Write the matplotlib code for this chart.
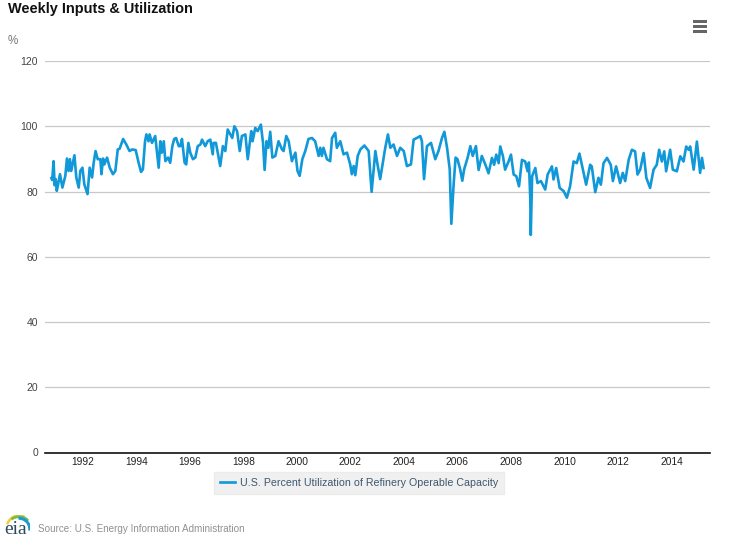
import matplotlib
matplotlib.use('Agg')
import matplotlib.pyplot as plt
from matplotlib.patches import Rectangle, Wedge

plt.rcParams['font.family'] = ['Liberation Sans', 'DejaVu Sans']

# Weekly readings (decimal year, percent)
years = [
    1990.82, 1990.85, 1990.90, 1990.94, 1990.98, 1991.02, 1991.07, 1991.14, 1991.23, 1991.34,
    1991.40, 1991.46, 1991.51, 1991.56, 1991.68, 1991.75, 1991.84, 1991.90, 1991.98, 1992.05,
    1992.17, 1992.25, 1992.34, 1992.40, 1992.47, 1992.55, 1992.65, 1992.69, 1992.75, 1992.80,
    1992.90, 1993.00, 1993.12, 1993.21, 1993.30, 1993.37, 1993.50, 1993.62, 1993.74, 1993.84,
    1993.97, 1994.08, 1994.17, 1994.24, 1994.32, 1994.37, 1994.45, 1994.49, 1994.58, 1994.70,
    1994.83, 1994.89, 1994.95, 1995.02, 1995.08, 1995.18, 1995.26, 1995.34, 1995.41, 1995.48,
    1995.58, 1995.64, 1995.70, 1995.80, 1995.86, 1995.94, 1996.01, 1996.11, 1996.20, 1996.29,
    1996.39, 1996.45, 1996.57, 1996.66, 1996.76, 1996.85, 1996.88, 1996.97, 1997.07, 1997.13,
    1997.23, 1997.32, 1997.41, 1997.51, 1997.58, 1997.66, 1997.76, 1997.86, 1997.94, 1998.07,
    1998.16, 1998.23, 1998.29, 1998.34, 1998.44, 1998.53, 1998.65, 1998.73, 1998.79, 1998.86,
    1998.93, 1999.00, 1999.08, 1999.19, 1999.31, 1999.44, 1999.50, 1999.60, 1999.69, 1999.81,
    1999.94, 2000.02, 2000.10, 2000.20, 2000.31, 2000.43, 2000.56, 2000.68, 2000.81, 2000.87,
    2000.93, 2000.99, 2001.12, 2001.24, 2001.31, 2001.43, 2001.49, 2001.62, 2001.74, 2001.87,
    2001.99, 2002.05, 2002.12, 2002.18, 2002.27, 2002.37, 2002.52, 2002.68, 2002.79, 2002.93,
    2003.01, 2003.11, 2003.21, 2003.30, 2003.40, 2003.49, 2003.61, 2003.74, 2003.86, 2003.99,
    2004.11, 2004.26, 2004.36, 2004.48, 2004.61, 2004.67, 2004.75, 2004.86, 2005.01, 2005.17,
    2005.29, 2005.42, 2005.51, 2005.61, 2005.71, 2005.77, 2005.86, 2005.93, 2006.00, 2006.10,
    2006.18, 2006.25, 2006.38, 2006.48, 2006.57, 2006.69, 2006.79, 2006.91, 2007.04, 2007.16,
    2007.29, 2007.37, 2007.45, 2007.54, 2007.60, 2007.70, 2007.78, 2007.91, 2008.00, 2008.10,
    2008.20, 2008.30, 2008.41, 2008.53, 2008.62, 2008.67, 2008.72, 2008.74, 2008.79, 2008.91,
    2008.99, 2009.12, 2009.28, 2009.37, 2009.53, 2009.59, 2009.69, 2009.82, 2009.97, 2010.09,
    2010.21, 2010.34, 2010.46, 2010.56, 2010.65, 2010.81, 2010.96, 2011.02, 2011.15, 2011.27,
    2011.36, 2011.46, 2011.59, 2011.73, 2011.81, 2011.93, 2012.08, 2012.18, 2012.27, 2012.40,
    2012.52, 2012.64, 2012.73, 2012.83, 2012.96, 2013.06, 2013.20, 2013.33, 2013.45, 2013.54,
    2013.64, 2013.73, 2013.80, 2013.95, 2014.05, 2014.20, 2014.33, 2014.45, 2014.55, 2014.64,
    2014.70, 2014.83, 2014.95, 2015.07, 2015.14, 2015.20,
]
utilization = [
    84.1, 83.5, 89.3, 81.9, 83.8, 80.2, 82.2, 85.3, 81.2, 84.8,
    90.1, 86.3, 89.9, 86.3, 91.1, 84.3, 81.2, 86.3, 87.3, 82.2,
    79.2, 87.3, 84.3, 88.8, 92.4, 89.9, 89.9, 85.3, 90.1, 88.3,
    90.4, 87.3, 85.3, 86.3, 92.9, 93.1, 96.1, 94.4, 92.4, 92.9,
    92.7, 88.8, 86.0, 86.8, 95.4, 97.5, 95.4, 97.5, 94.9, 97.0,
    87.3, 95.4, 91.9, 95.4, 89.3, 90.4, 88.8, 93.9, 96.1, 96.4,
    93.9, 93.9, 96.1, 88.8, 88.3, 94.9, 91.9, 89.9, 90.4, 93.9,
    94.4, 95.9, 93.9, 95.4, 95.9, 91.4, 94.9, 94.9, 90.4, 87.8,
    93.9, 92.4, 99.0, 97.5, 96.4, 100.0, 98.5, 92.4, 97.0, 97.5,
    89.9, 94.4, 98.5, 95.4, 99.5, 98.5, 100.5, 94.9, 86.6, 95.4,
    93.4, 98.3, 90.4, 90.9, 95.4, 92.9, 92.4, 97.0, 95.4, 89.3,
    91.9, 86.3, 84.8, 89.9, 92.4, 96.1, 96.4, 95.4, 90.9, 93.4,
    90.9, 93.4, 89.9, 89.3, 96.4, 98.0, 93.4, 95.4, 91.4, 91.9,
    88.3, 85.3, 87.8, 85.0, 90.9, 92.9, 94.1, 92.4, 79.9, 92.4,
    88.3, 83.8, 88.8, 93.4, 97.5, 93.4, 94.4, 90.9, 93.4, 92.4,
    87.8, 88.3, 95.9, 96.4, 97.0, 95.4, 83.8, 93.9, 94.9, 89.9,
    92.4, 96.4, 98.3, 93.4, 86.8, 70.1, 82.7, 90.4, 89.9, 86.8,
    83.3, 86.8, 90.4, 93.9, 90.9, 93.9, 86.6, 90.9, 88.3, 85.6,
    90.3, 88.2, 91.3, 88.7, 93.8, 90.8, 86.7, 89.2, 91.3, 85.2,
    84.7, 81.6, 89.7, 89.2, 86.2, 88.9, 78.1, 66.7, 84.7, 87.2,
    82.6, 83.2, 80.6, 85.2, 87.7, 83.7, 87.2, 81.1, 80.1, 78.1,
    81.6, 89.2, 88.7, 91.6, 88.2, 82.1, 88.2, 87.7, 79.8, 84.2,
    82.1, 88.7, 90.3, 88.2, 83.2, 87.7, 82.6, 85.7, 83.2, 89.7,
    92.8, 92.3, 85.2, 86.7, 91.8, 84.2, 81.1, 86.7, 88.2, 92.8,
    89.2, 92.3, 86.2, 92.8, 86.7, 86.2, 90.8, 89.2, 93.8, 92.8,
    93.8, 86.7, 95.3, 85.7, 90.3, 87.2,
]
year_ticks = list(range(1992, 2016, 2))
pct_ticks = [0, 20, 40, 60, 80, 100, 120]

W, H = 732, 547
fig = plt.figure(figsize=(W / 100, H / 100), dpi=100)
ax = fig.add_axes([45 / W, 1 - 452.5 / H, 665 / W, 391.5 / H])

line, = ax.plot(years, utilization, color='#1098d8', lw=1.9, solid_joinstyle='round',
                label='U.S. Percent Utilization of Refinery Operable Capacity')

ax.set_xlim(1990.58, 2015.44)
ax.set_ylim(0, 120)
ax.set_yticks(pct_ticks)
ax.set_xticks(year_ticks)
ax.grid(axis='y', color='#c8c8c8', lw=0.9)
ax.set_axisbelow(True)
for s in ['top', 'left', 'right']:
    ax.spines[s].set_visible(False)
ax.spines['bottom'].set_linewidth(1.2)
ax.spines['bottom'].set_color('#111111')
ax.tick_params(axis='x', length=0, pad=3.5, labelsize=7.4, labelcolor='#222222')
ax.tick_params(axis='y', length=0, pad=5, labelsize=7.5, labelcolor='#444444')

leg = fig.legend(handles=[line], loc='center', bbox_to_anchor=(359 / W, 1 - 483 / H),
                 fontsize=7.7, frameon=True, fancybox=False, facecolor='#f0f0f0',
                 edgecolor='#ececec', labelcolor='#3e576f', handlelength=1.4,
                 handletextpad=0.47, borderpad=0.55, framealpha=1)

fig.text(8 / W, 1 - 8.5 / H, 'Weekly Inputs & Utilization', fontsize=10.45, fontweight='bold',
         color='#111111', va='center')
fig.text(8 / W, 1 - 41.5 / H, '%', fontsize=8.4, color='#777777', va='center')
fig.text(38 / W, 1 - 528.5 / H, 'Source: U.S. Energy Information Administration', fontsize=7.1,
         color='#909090', va='center')

# eia logo
fig.text(16 / W, 1 - 529 / H, 'eia', fontsize=14, family='Liberation Serif', color='#2c4a5e',
         ha='center', va='center')
logo = fig.add_axes([4 / W, 1 - 532 / H, 26 / W, 17 / H])
logo.set_xlim(0, 26)
logo.set_ylim(0, 17)
logo.axis('off')
logo.patch.set_alpha(0)
logo.add_patch(Wedge((15, 4), 13, 65, 160, width=1.3, color='#f2cf3a'))
logo.add_patch(Wedge((15, 3), 13, 45, 125, width=1.3, color='#78bd45'))
logo.add_patch(Wedge((15, 3), 11.5, -5, 90, width=1.6, color='#1a9ad6'))

# menu button
for y in [21.5, 26, 31]:
    fig.add_artist(Rectangle((693 / W, 1 - (y + 1.5) / H), 14 / W, 3 / H,
                             transform=fig.transFigure, color='#666666', lw=0))

fig.savefig('out.png', dpi=100, facecolor='white')
